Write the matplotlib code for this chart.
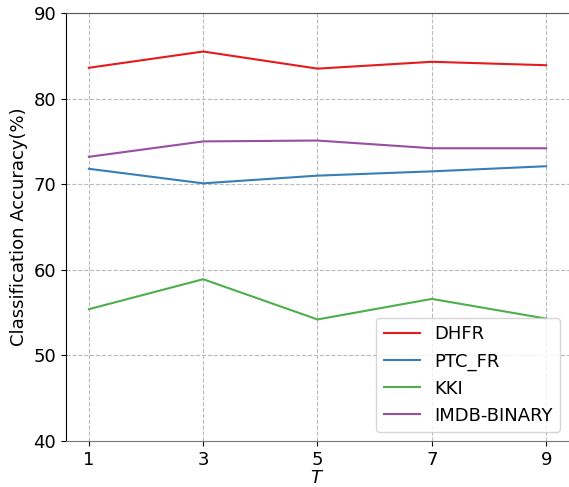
import matplotlib
matplotlib.use("Agg")
import matplotlib.pyplot as plt

T = [1, 3, 5, 7, 9]
dhfr = [83.6, 85.5, 83.5, 84.3, 83.9]
ptc_fr = [71.8, 70.1, 71.0, 71.5, 72.1]
kki = [55.4, 58.9, 54.2, 56.6, 54.3]
imdb = [73.2, 75.0, 75.1, 74.2, 74.2]
labels = ["DHFR", "PTC_FR", "KKI", "IMDB-BINARY"]
colors = ["#e41a1c", "#377eb8", "#4daf4a", "#984ea3"]

fig = plt.figure(figsize=(5.69, 4.87), dpi=100)
ax = fig.add_axes([66/569, (487-441)/487, (569-66)/569, (441-13)/487])
for ys, lab, c in zip([dhfr, ptc_fr, kki, imdb], labels, colors):
    ax.plot(T, ys, color=c, label=lab, linewidth=1.5)

ax.set_xlim(0.6, 9.4)
ax.set_ylim(40, 90)
ax.set_xticks(T)
ax.set_yticks([40, 50, 60, 70, 80, 90])
ax.tick_params(labelsize=13)
ax.grid(True, linestyle="--", color="#bbbbbb", linewidth=0.8)
ax.set_xlabel("$T$", fontsize=13, labelpad=0)
ax.set_ylabel("Classification Accuracy(%)", fontsize=13)
ax.spines["right"].set_visible(False)
ax.spines["top"].set_color("#555555")
ax.spines["bottom"].set_color("#777777")
ax.legend(loc="lower right", fontsize=13)
fig.savefig("out.png", dpi=100)
